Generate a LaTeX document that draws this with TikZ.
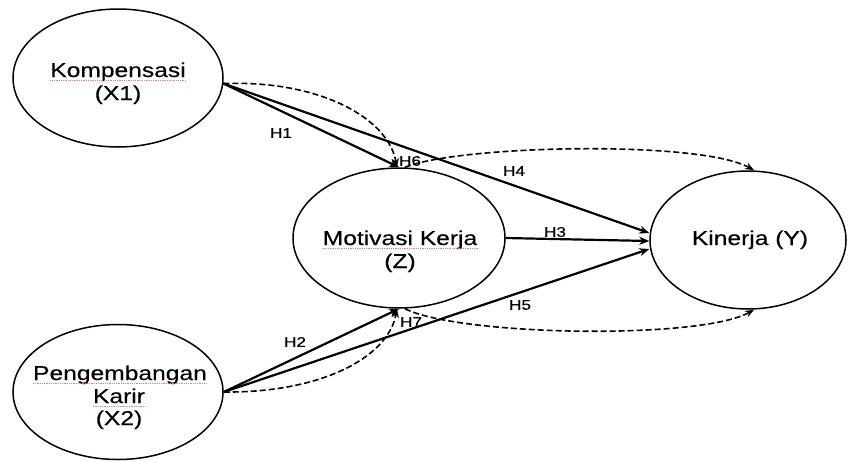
\documentclass[tikz,border=0pt]{standalone}
\usepackage{fontspec}
\setmainfont{Liberation Sans}[FakeStretch=1.23,FakeBold=0.3]
\usetikzlibrary{shapes.geometric,arrows.meta}
\begin{document}
\begin{tikzpicture}[x=1pt,y=-1pt,
 ell/.style={draw, ellipse, line width=1.5pt, inner sep=0pt},
 lbl/.style={inner sep=0pt, anchor=base, font=\fontsize{20}{23}\selectfont},
 hyp/.style={inner sep=0pt, font=\fontsize{14}{16}\selectfont},
 conn/.style={line width=2.2pt, -{Stealth[length=10pt,width=8pt]}},
 dconn/.style={line width=1.6pt, dash pattern=on 6pt off 3pt, -{Stealth[length=9pt,width=7pt]}},
 squig/.style={red!55, line width=0.8pt, densely dotted}]
\useasboundingbox (0,0) rectangle (848,461);
\fill[white] (0,0) rectangle (848,461);

% ellipses
\node[ell, minimum width=210pt, minimum height=138pt] (x1) at (118,78) {};
\node[ell, minimum width=210pt, minimum height=135pt] (x2) at (118,392) {};
\node[ell, minimum width=212pt, minimum height=140pt] (z) at (399,238) {};
\node[ell, minimum width=196pt, minimum height=138pt] (y) at (748,240) {};

% texts
\node[lbl] (tk1) at (118,77) {Kompensasi};
\node[lbl] (tk2) at (118,100) {(X1)};
\node[lbl] (tm1) at (400,245) {Motivasi Kerja};
\node[lbl] (tm2) at (400,268) {(Z)};
\node[lbl] (ty) at (750,245) {Kinerja (Y)};
\node[lbl] (tp1) at (120,380) {Pengembangan};
\node[lbl] (tp2) at (119,403) {Karir};
\node[lbl] (tp3) at (119,425) {(X2)};

% spell-check underlines
\draw[squig] ([yshift=-3pt]tk1.base west) -- ([yshift=-3pt]tk1.base east);
\draw[squig] ([yshift=-3pt]tm1.base west) -- ([yshift=-3pt]tm1.base east);
\draw[squig] ([yshift=-3pt]tp1.base west) -- ([yshift=-3pt]tp1.base east);
\draw[squig] ([yshift=-3pt]tp2.base west) -- ([yshift=-3pt]tp2.base east);

% direct paths
\draw[conn] (x1.-3) -- (z.north);
\draw[conn] (x1.-3) -- ([yshift=7pt]y.west);
\draw[conn] (z.east) -- ([yshift=-1pt]y.west);
\draw[conn] (x2.east) -- (z.south);
\draw[conn] (x2.east) -- ([yshift=-9pt]y.west);

% mediation paths (dashed)
\draw[dconn] (x1.-3) .. controls (320,80) and (388,118) .. ([xshift=-2pt]z.north);
\draw[dconn] ([xshift=6pt]z.north) .. controls (460,145) and (700,140) .. ([xshift=6pt]y.north);
\draw[dconn] (x2.east) .. controls (320,393) and (388,358) .. ([xshift=-2pt]z.south);
\draw[dconn] ([xshift=6pt]z.south) .. controls (460,336) and (700,340) .. ([xshift=6pt]y.south);

% hypothesis labels
\node[hyp] (h1) at (281,133) {H1};
\node[hyp] (h6) at (410,161) {H6};
\node[hyp] (h4) at (514,171) {H4};
\node[hyp] (h3) at (555,232) {H3};
\node[hyp] (h5) at (520,305) {H5};
\node[hyp] (h2) at (295,342) {H2};
\node[hyp] (h7) at (411,322) {H7};
\end{tikzpicture}
\end{document}
